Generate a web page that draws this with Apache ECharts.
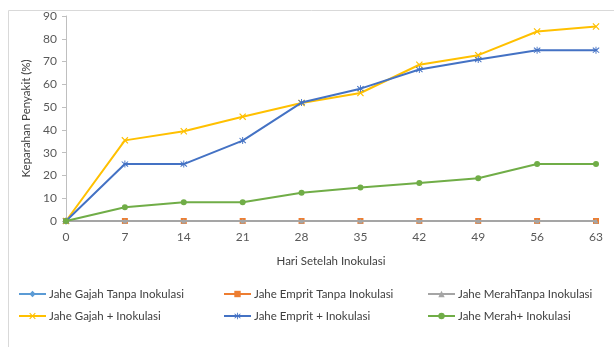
<!DOCTYPE html>
<html>
<head>
<meta charset="utf-8">
<script src="https://cdn.jsdelivr.net/npm/echarts@6/dist/echarts.min.js"></script>
<style>html,body{margin:0;padding:0;background:#fff;}#c{width:614px;height:347px;}</style>
</head>
<body>
<div id="c"></div>
<script>
const days = ['0','7','14','21','28','35','42','49','56','63'];
const gajahTanpa = [0,0,0,0,0,0,0,0,0,0];
const empritTanpa = [0,0,0,0,0,0,0,0,0,0];
const merahTanpa = [0,0,0,0,0,0,0,0,0,0];
const gajahInok = [0,35.4,39.4,45.8,51.8,56.2,68.6,72.8,83.2,85.4];
const empritInok = [0,25,25,35.3,52,58.1,66.5,70.9,75,75];
const merahInok = [0,6,8.2,8.2,12.4,14.7,16.7,18.8,25,25];
const names = ['Jahe Gajah Tanpa Inokulasi','Jahe Emprit Tanpa Inokulasi','Jahe MerahTanpa Inokulasi','Jahe Gajah + Inokulasi','Jahe Emprit + Inokulasi','Jahe Merah+ Inokulasi'];

const FONT = 'Lato';
const xPath = 'path://M0,1.2 L1.2,0 L5,3.8 L8.8,0 L10,1.2 L6.2,5 L10,8.8 L8.8,10 L5,6.2 L1.2,10 L0,8.8 L3.8,5 Z';
const starPath = 'path://M4.4,0 L5.6,0 L5.6,3.8 L8.7,0.9 L9.5,1.8 L6.4,5 L9.5,8.2 L8.7,9.1 L5.6,6.2 L5.6,10 L4.4,10 L4.4,6.2 L1.3,9.1 L0.5,8.2 L3.6,5 L0.5,1.8 L1.3,0.9 L4.4,3.8 Z';

const colors = ['#5B9BD5','#ED7D31','#A5A5A5','#FFC000','#4472C4','#70AD47'];
const symbols = ['diamond','rect','triangle',xPath,starPath,'circle'];
const sizes = [6,6,5,7,7,6];
const dataSets = [gajahTanpa, empritTanpa, merahTanpa, gajahInok, empritInok, merahInok];

const legendPos = [[18,288],[223,288],[427,288],[18,310],[223,310],[427,310]];

const chart = echarts.init(document.getElementById('c'));
chart.setOption({
  animation: false,
  textStyle: {fontFamily: FONT},
  graphic: [{
    type: 'rect', left: 6, top: 8, shape: {width: 700, height: 400},
    style: {fill: 'none', stroke: '#d9d9d9', lineWidth: 1}, silent: true, z: -1
  }],
  grid: {left: 66, right: 18, top: 16, bottom: 126},
  legend: names.map((n, i) => ({
    data: [n], left: legendPos[i][0], top: legendPos[i][1],
    itemWidth: 27, itemHeight: 8, itemGap: 0, padding: 0,
    textStyle: {fontFamily: FONT, fontSize: 11.5, color: '#404040', padding: [0,0,0,-2]}
  })),
  xAxis: {
    type: 'category', data: days, boundaryGap: false,
    name: 'Hari Setelah Inokulasi', nameLocation: 'middle', nameGap: 34,
    nameTextStyle: {fontFamily: FONT, fontSize: 11.5, color: '#404040'},
    axisLine: {lineStyle: {color: '#bfbfbf', width: 1}},
    axisTick: {show: false},
    axisLabel: {fontFamily: FONT, fontSize: 12, color: '#595959', margin: 10}
  },
  yAxis: {
    type: 'value', min: 0, max: 90, interval: 10,
    name: 'Keparahan Penyakit (%)', nameLocation: 'middle', nameGap: 30,
    nameTextStyle: {fontFamily: FONT, fontSize: 11.5, color: '#404040'},
    axisLine: {show: true, lineStyle: {color: '#bfbfbf'}},
    axisTick: {show: true, length: 4, lineStyle: {color: '#bfbfbf'}},
    splitLine: {show: false},
    axisLabel: {fontFamily: FONT, fontSize: 12, color: '#595959', margin: 9}
  },
  series: names.map((n, i) => ({
    name: n, type: 'line', data: dataSets[i],
    symbol: symbols[i], symbolSize: sizes[i], showAllSymbol: true,
    lineStyle: {color: colors[i], width: 2},
    itemStyle: {color: colors[i]},
    z: 2 + i
  }))
});
</script>
</body>
</html>
